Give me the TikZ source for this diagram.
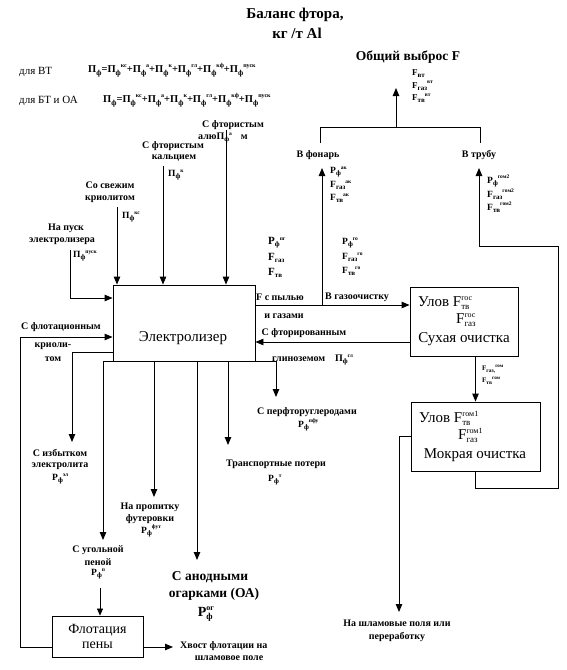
\documentclass[tikz,border=0pt]{standalone}
\usepackage{fontspec}
\setmainfont{Liberation Serif}
\usetikzlibrary{arrows.meta}
\newcommand\fs[1]{\fontsize{#1}{#1}\selectfont}
\newcommand\ix[3]{#1\raisebox{-2pt}{\fs{7}#2}\raisebox{4.5pt}{\fs{5.5}#3}}
\newcommand\iz[3]{#1\raisebox{-2.5pt}{\fs{7.5}#2}\raisebox{5pt}{\fs{6}#3}}
\newcommand\iy[3]{#1\rlap{\raisebox{-3pt}{\fs{9}#2}}\raisebox{6pt}{\fs{8}#3}}
\begin{document}
\begin{tikzpicture}[x=1pt,y=-1pt,
  lbl/.style={font=\bfseries\fs{10}, align=center, inner sep=0pt},
  sml/.style={font=\bfseries\fs{9.5}, inner sep=0pt, anchor=west},
  boxn/.style={draw, line width=0.9pt, inner sep=0pt},
  btxt/.style={font=\fs{15}, inner sep=0pt},
  ar/.style={line width=0.9pt, -{Triangle[length=8pt,width=6.5pt]}},
  thinar/.style={line width=0.5pt, -{Triangle[length=7pt,width=6pt]}},
  ln/.style={line width=0.9pt}]
\useasboundingbox (0,0) rectangle (567,670);

% title and formulas
\node[font=\bfseries\fs{15}, inner sep=0pt] (t1) at (295,15) {Баланс фтора,};
\node[font=\bfseries\fs{15}, inner sep=0pt] (t2) at (297,33) {кг /т Al};
\node[anchor=west, font=\fs{11}, inner sep=0pt] (vt) at (19,72) {для ВТ};
\node[sml, font=\bfseries\fs{10.5}] (fvt) at (88,70) {П\raisebox{-2.5pt}{\fs{7.5}ф}=\iz{П}{ф}{кс}+\iz{П}{ф}{а}+\iz{П}{ф}{к}+\iz{П}{ф}{гл}+\iz{П}{ф}{кф}+\iz{П}{ф}{пуск}};
\node[anchor=west, font=\fs{11}, inner sep=0pt] (bt) at (19,101) {для БТ и ОА};
\node[sml, font=\bfseries\fs{10.5}] (fbt) at (103,100) {П\raisebox{-2.5pt}{\fs{7.5}ф}=\iz{П}{ф}{кс}+\iz{П}{ф}{а}+\iz{П}{ф}{к}+\iz{П}{ф}{гл}+\iz{П}{ф}{кф}+\iz{П}{ф}{пуск}};

% total emission
\node[font=\bfseries\fs{13.5}, inner sep=0pt] (tot) at (408,57) {Общий выброс F};
\node[sml, font=\bfseries\fs{9}] (tot1) at (412,74) {\ix{F}{вт}{}};
\node[sml, font=\bfseries\fs{9}] (tot2) at (412,86) {\ix{F}{газ}{вт}};
\node[sml, font=\bfseries\fs{9}] (tot3) at (412,98) {\ix{F}{тв}{вт}};
\coordinate (bl) at (320,143);
\coordinate (br) at (480,143);
\coordinate (bm) at (396,127);
\coordinate (bt0) at (396,88);
\draw[ln] (bl) -- (bl |- bm) -- (br |- bm) -- (br);
\draw[ar] (bm) -- (bt0);
\node[lbl] (fon) at (318,155) {В фонарь};
\node[lbl] (trb) at (479,155) {В трубу};

% boxes
\node[boxn, minimum width=142pt, minimum height=76pt] (el) at (184,323) {};
\node[btxt] (elt) at (183,338) {Электролизер};
\node[boxn, minimum width=108pt, minimum height=69pt] (dry) at (464,321.5) {};
\node[btxt, anchor=west] (dry1) at (418,303) {Улов \iy{F}{тв}{гос}};
\node[btxt, anchor=west] (dry2) at (456,320) {\iy{F}{газ}{гос}};
\node[btxt] (dry3) at (464,339) {Сухая очистка};
\node[boxn, minimum width=129pt, minimum height=69pt] (wet) at (475.5,436.5) {};
\node[btxt, anchor=west] (wet1) at (419,418) {Улов \iy{F}{тв}{гом1}};
\node[btxt, anchor=west] (wet2) at (458,435) {\iy{F}{газ}{гом1}};
\node[btxt] (wet3) at (475,455) {Мокрая очистка};
\node[boxn, minimum width=91pt, minimum height=41pt] (flot) at (97.5,636.5) {};
\node[btxt, font=\fs{14}] (flt1) at (97.5,630) {Флотация};
\node[btxt, font=\fs{14}] (flt2) at (97.5,645) {пены};

% top inputs
\coordinate (a1) at (117,207);
\coordinate (a2) at (163,166);
\coordinate (a3) at (226,130);
\draw[ar] (a1) -- (a1 |- el.north);
\draw[ar] (a2) -- (a2 |- el.north);
\draw[ar] (a3) -- (a3 |- el.north);
\node[lbl] (in3) at (233,125) {С фтористым};
\node[lbl, anchor=west] (in3b) at (198,138) {алю\ix{П}{ф}{а}\hspace{9pt}м};
\node[lbl] (in2) at (173,146) {С фтористым};
\node[lbl] (in2b) at (174,158) {кальцием};
\node[sml] (in2c) at (168,175) {\ix{П}{ф}{к}};
\node[lbl] (in1) at (110,185) {Со свежим};
\node[lbl] (in1b) at (110,199) {криолитом};
\node[sml] (in1c) at (122,217) {\ix{П}{ф}{кс}};
\node[lbl] (in0) at (66,228) {На пуск};
\node[lbl] (in0b) at (62,241) {электролизера};
\node[sml] (in0c) at (73,256) {\ix{П}{ф}{пуск}};
\coordinate (p0) at (70,250);
\draw[ar] (p0) |- ([yshift=25pt]el.west);

% left side
\node[lbl] (fl1) at (61,327) {С флотационным};
\node[lbl] (fl2) at (53,346) {криоли-};
\node[lbl] (fl3) at (53,359) {том};
\coordinate (fl) at (20,337);
\draw[ar] ([yshift=-10.5pt]flot.west) -| (fl) -- ([yshift=-14pt]el.west);
\coordinate (iz) at (72,442);
\draw[ar] ([yshift=-29pt]el.west) -| (iz);
\node[lbl] (iz1) at (60,453) {С избытком};
\node[lbl] (iz2) at (60,466) {электролита};
\node[sml] (iz3) at (52,479) {\ix{P}{ф}{эл}};

% bottom outputs
\coordinate (u1) at (103,540);
\draw[ar] (el.south west) -| (u1);
\node[lbl] (ug1) at (98,550) {С угольной};
\node[lbl] (ug2) at (98,562) {пеной};
\node[sml] (ug3) at (91,574) {\ix{P}{ф}{п}};
\coordinate (u2) at (100,588);
\draw[thinar] (u2) -- (u2 |- flot.north);
\coordinate (hv) at (173,647);
\draw[ar] ([yshift=-10.5pt]flot.east) -- (hv);
\node[lbl, anchor=west] (hv1) at (180,646) {Хвост флотации на};
\node[lbl] (hv2) at (229,658) {шламовое поле};

\coordinate (f1) at (154,497);
\draw[ar] (f1 |- el.south) -- (f1);
\node[lbl] (ft1) at (150,507) {На пропитку};
\node[lbl] (ft2) at (150,519) {футеровки};
\node[sml] (ft3) at (141,531) {\ix{P}{ф}{фут}};

\coordinate (f2) at (197,560);
\draw[ar] (f2 |- el.south) -- (f2);
\node[lbl, font=\bfseries\fs{13.5}] (og1) at (210,577) {С анодными};
\node[lbl, font=\bfseries\fs{13.5}] (og2) at (214,594) {огарками (ОА)};
\node[lbl, font=\bfseries\fs{14}] (og3) at (206,614) {P\rlap{\raisebox{-3pt}{\fs{9}ф}}\raisebox{5.5pt}{\fs{8}ог}};

\coordinate (f3) at (228,445);
\draw[ar] (f3 |- el.south) -- (f3);
\node[lbl] (tr1) at (276,464) {Транспортные потери};
\node[sml] (tr2) at (268,480) {\ix{P}{ф}{т}};

\coordinate (f4) at (276,397);
\draw[ar] (el.south east) -| (f4);
\node[lbl] (pf1) at (307,412) {С перфторуглеродами};
\node[sml] (pf2) at (298,425) {\ix{P}{ф}{пфу}};

% right side gas flows
\draw[ar] ([yshift=18pt]el.east) -- ([yshift=16.5pt]dry.west);
\coordinate (vf0) at (322,305);
\coordinate (vf1) at (322,168);
\draw[ar] (vf0) -- (vf1);
\node[lbl] (gp1) at (280,297) {F с пылью};
\node[lbl, anchor=west] (gp2) at (325,297) {В газоочистку};
\node[lbl] (gp3) at (284,316) {и газами};
\draw[ar] ([yshift=-20.5pt]dry.west) -- ([yshift=-19pt]el.east);
\node[lbl] (gl1) at (304,333) {С фторированным};
\node[lbl, anchor=west] (gl2) at (272,360) {глиноземом\hspace{10pt}\ix{П}{ф}{гл}};

\node[sml, font=\bfseries\fs{11}] (pg1) at (268,243) {\ix{P}{ф}{пг}};
\node[sml, font=\bfseries\fs{11}] (pg2) at (268,258) {\ix{F}{газ}{}};
\node[sml, font=\bfseries\fs{11}] (pg3) at (268,273) {\ix{F}{тв}{}};
\node[sml] (go1) at (342,243) {\ix{P}{ф}{го}};
\node[sml] (go2) at (342,257) {\ix{F}{газ}{го}};
\node[sml] (go3) at (342,271) {\ix{F}{тв}{го}};
\node[sml] (ak1) at (330,172) {\ix{P}{ф}{ак}};
\node[sml] (ak2) at (330,185) {\ix{F}{газ}{ак}};
\node[sml] (ak3) at (330,198) {\ix{F}{тв}{ак}};

\draw[ar] (dry.south -| wet.north) -- (wet.north);
\node[sml, font=\bfseries\fs{7}] (gm1) at (482,369) {F\raisebox{-1.5pt}{\fs{5.5}газ,}\raisebox{3pt}{\fs{5}гом}};
\node[sml, font=\bfseries\fs{7}] (gm2) at (482,381) {F\raisebox{-1.5pt}{\fs{5.5}тв}\raisebox{3pt}{\fs{5}гом}};

\coordinate (r1) at (558,488);
\coordinate (r2) at (558,246);
\coordinate (r3) at (479,246);
\coordinate (vt1) at (479,168);
\draw[ar] (wet.south) |- (r1) -- (r2) -- (r3) -- (vt1);
\node[sml] (tb1) at (487,181) {\ix{P}{ф}{гом2}};
\node[sml] (tb2) at (487,194) {\ix{F}{газ}{гом2}};
\node[sml] (tb3) at (487,207) {\ix{F}{тв}{гом2}};

\coordinate (sh) at (399,612);
\draw[ar] (wet.west) -| (sh);
\node[lbl] (sh1) at (397,623) {На шламовые поля или};
\node[lbl] (sh2) at (397,637) {переработку};
\end{tikzpicture}
\end{document}
